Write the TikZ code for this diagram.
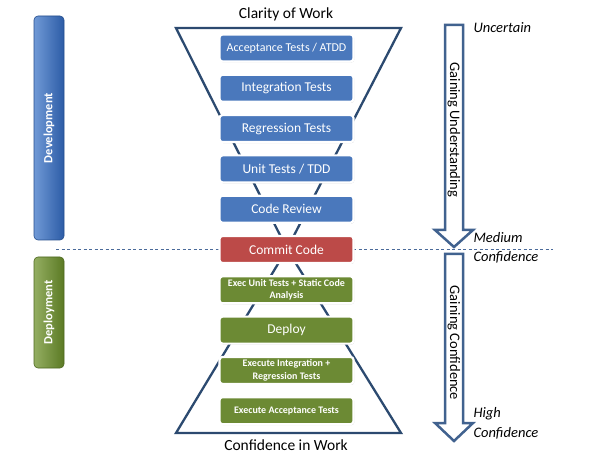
\documentclass[tikz,border=0pt]{standalone}
\usepackage{fontspec}
\setmainfont{Carlito}
\usetikzlibrary{shadows}
\definecolor{boxblue}{HTML}{4A78BC}
\definecolor{boxred}{HTML}{BC4A48}
\definecolor{boxgreen}{HTML}{6C8A34}
\definecolor{funnel}{HTML}{2C4A70}
\definecolor{arrowblue}{HTML}{41628F}
\definecolor{dashblue}{HTML}{4A6A9A}
\definecolor{devlight}{HTML}{7099D6}
\definecolor{devdark}{HTML}{2C5CA6}
\definecolor{deplight}{HTML}{94AE62}
\definecolor{depdark}{HTML}{5B7A24}
\tikzset{
  stepbox/.style={rectangle, rounded corners=3pt, draw=white, line width=2.2pt,
    minimum width=134pt, minimum height=27pt, text=white, align=center, inner sep=1pt,
    drop shadow={shadow xshift=0.8pt, shadow yshift=-1pt, opacity=0.3, fill=black!60}},
  bigtxt/.style={font=\fontsize{13.5}{15}\selectfont},
  smalltxt/.style={font=\fontsize{10}{12.5}\selectfont\bfseries},
  phasebar/.style={rectangle, rounded corners=4pt, minimum width=30pt, line width=0.6pt},
  phasetxt/.style={rotate=90, text=white, font=\fontsize{12.5}{14}\selectfont\bfseries},
  blockarrow/.style={draw=arrowblue, fill=white, line width=2.5pt, line join=miter},
  sidetxt/.style={font=\fontsize{14.5}{19.5}\selectfont\itshape, anchor=west, align=left},
  titletxt/.style={font=\fontsize{15.5}{17}\selectfont}
}
\begin{document}
\begin{tikzpicture}[x=1pt,y=-1pt]
\useasboundingbox[fill=white] (0,0) rectangle (608,457);

% dashed separator
\coordinate (dl) at (56,249);
\coordinate (dr) at (553,249);
\draw[dashblue, line width=0.8pt, dash pattern=on 3pt off 2.5pt] (dl) -- (dr);

% funnel shapes
\coordinate (tl) at (176,28);
\coordinate (tr) at (401,28);
\coordinate (apex) at (287,249);
\coordinate (bl) at (176,433);
\coordinate (br) at (401,433);
\draw[funnel, line width=2.3pt, line join=miter] (tl) -- (tr) -- (apex) -- cycle;
\draw[funnel, line width=2.3pt, line join=miter] (apex) -- (br) -- (bl) -- cycle;

% titles
\node[titletxt] (clarity) at (286,14) {Clarity of Work};
\node[titletxt] (confw) at (286,445) {Confidence in Work};

% boxes
\node[stepbox, fill=boxblue, font=\fontsize{12}{14}\selectfont] (b1) at (286.5,48) {Acceptance Tests / ATDD};
\node[stepbox, fill=boxblue, bigtxt] (b2) at (286.5,88.3) {Integration Tests};
\node[stepbox, fill=boxblue, bigtxt] (b3) at (286.5,128.6) {Regression Tests};
\node[stepbox, fill=boxblue, bigtxt] (b4) at (286.5,168.9) {Unit Tests / TDD};
\node[stepbox, fill=boxblue, bigtxt] (b5) at (286.5,209.2) {Code Review};
\node[stepbox, fill=boxred, bigtxt] (b6) at (286.5,249.5) {Commit Code};
\node[stepbox, fill=boxgreen, smalltxt] (b7) at (286.5,289.8) {Exec Unit Tests + Static Code\\Analysis};
\node[stepbox, fill=boxgreen, bigtxt] (b8) at (286.5,330.1) {Deploy};
\node[stepbox, fill=boxgreen, smalltxt] (b9) at (286.5,370.4) {Execute Integration +\\Regression Tests};
\node[stepbox, fill=boxgreen, smalltxt] (b10) at (286.5,410.7) {Execute Acceptance Tests};

% phase bars
\node[phasebar, minimum height=224pt, left color=devlight, right color=devdark, draw=devdark!85!black] (dev) at (49,128) {};
\node[phasetxt] (devt) at (dev.center) {Development};
\node[phasebar, minimum height=111pt, left color=deplight, right color=depdark, draw=depdark!85!black] (dep) at (49,312.5) {};
\node[phasetxt] (dept) at (dep.center) {Deployment};

% block arrows
\draw[blockarrow] (445,25) -- (463,25) -- (463,230) -- (473,230) -- (454,247) -- (435,230) -- (445,230) -- cycle;
\node[rotate=-90, font=\fontsize{14.5}{16}\selectfont] (gu) at (454,130) {Gaining Understanding};
\draw[blockarrow] (445,254) -- (463,254) -- (463,423) -- (473,423) -- (454,441) -- (435,423) -- (445,423) -- cycle;
\node[rotate=-90, font=\fontsize{14.5}{16}\selectfont] (gc) at (454,343) {Gaining Confidence};

% side labels
\node[sidetxt] (unc) at (470,28) {Uncertain};
\node[sidetxt] (med) at (470,248) {Medium\\Confidence};
\node[sidetxt] (high) at (470,423.5) {High\\Confidence};
\end{tikzpicture}
\end{document}
